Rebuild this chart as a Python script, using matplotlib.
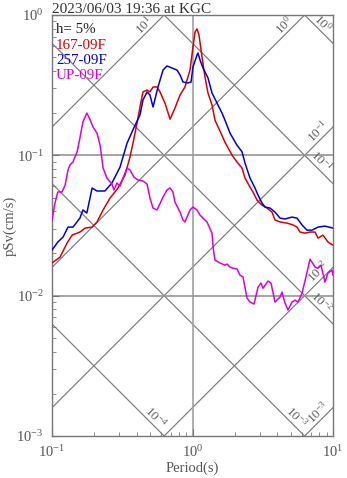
import numpy as np
import matplotlib
matplotlib.use('Agg')
import matplotlib.pyplot as plt

plt.rcParams['font.family'] = ['Liberation Serif', 'DejaVu Serif']
plt.rcParams['mathtext.default'] = 'regular'

title = "2023/06/03 19:36 at KGC"
damping_label = "h= 5%"
series_names = ["167-09F", "257-09F", "UP-09F"]
series_colors = ["#dd0000", "#0000dd", "#dd00dd"]

# ---- data: period (s), pSv (cm/s) ----
period_167 = [0.100, 0.114, 0.128, 0.139, 0.158, 0.172, 0.193, 0.209, 0.231, 0.259,
              0.295, 0.331, 0.359, 0.377, 0.403, 0.423, 0.444, 0.475, 0.498, 0.524,
              0.559, 0.587, 0.637, 0.692, 0.750, 0.815, 0.884, 0.960, 1.008, 1.042,
              1.077, 1.112, 1.169, 1.227, 1.289, 1.377, 1.446, 1.569, 1.703, 1.910,
              2.074, 2.251, 2.364, 2.566, 2.695, 2.877, 3.124, 3.390, 3.680, 3.866,
              4.196, 4.706, 5.192, 5.544, 5.823, 6.32, 6.86, 7.45, 7.82, 8.49,
              9.21, 10.0]
psv_167 = [0.0171, 0.0188, 0.0237, 0.0270, 0.0284, 0.0303, 0.0308, 0.0335, 0.0408, 0.0496,
           0.0585, 0.0724, 0.0973, 0.122, 0.170, 0.221, 0.283, 0.292, 0.283, 0.307,
           0.307, 0.283, 0.236, 0.181, 0.217, 0.269, 0.307, 0.405, 0.592, 0.756,
           0.795, 0.720, 0.502, 0.361, 0.278, 0.228, 0.178, 0.149, 0.124, 0.1005,
           0.0896, 0.0812, 0.0689, 0.0594, 0.0548, 0.0480, 0.0442, 0.0421, 0.0394, 0.0346,
           0.0335, 0.0329, 0.0319, 0.0308, 0.0284, 0.0279, 0.0284, 0.0284, 0.0257, 0.0270,
           0.0241, 0.0229]

period_257 = [0.100, 0.110, 0.120, 0.130, 0.141, 0.158, 0.166, 0.177, 0.193, 0.209,
              0.238, 0.267, 0.305, 0.342, 0.377, 0.423, 0.444, 0.475, 0.498, 0.524,
              0.568, 0.617, 0.658, 0.715, 0.776, 0.815, 0.856, 0.929, 0.976, 1.008,
              1.077, 1.094, 1.131, 1.188, 1.289, 1.377, 1.494, 1.622, 1.703, 1.849,
              2.074, 2.251, 2.364, 2.566, 2.785, 2.926, 3.124, 3.281, 3.562, 3.866,
              4.196, 4.554, 5.108, 5.544, 6.017, 6.530, 7.09, 7.82, 8.77, 10.0]
psv_257 = [0.0211, 0.0241, 0.0262, 0.0308, 0.0308, 0.0357, 0.0408, 0.0388, 0.0585, 0.0557,
           0.0557, 0.0635, 0.0825, 0.122, 0.152, 0.194, 0.248, 0.283, 0.269, 0.221,
           0.307, 0.405, 0.433, 0.419, 0.405, 0.374, 0.333, 0.328, 0.333, 0.426,
           0.519, 0.536, 0.478, 0.419, 0.356, 0.278, 0.236, 0.200, 0.178, 0.144,
           0.118, 0.106, 0.0881, 0.0689, 0.0585, 0.0521, 0.0457, 0.0428, 0.0421, 0.0394,
           0.0357, 0.0352, 0.0363, 0.0357, 0.0319, 0.0293, 0.0293, 0.0308, 0.0313, 0.0303]

period_up = [0.100, 0.105, 0.110, 0.118, 0.124, 0.130, 0.134, 0.141, 0.151, 0.158,
             0.166, 0.177, 0.186, 0.196, 0.209, 0.220, 0.231, 0.246, 0.267, 0.276,
             0.290, 0.305, 0.320, 0.342, 0.359, 0.383, 0.409, 0.444, 0.475, 0.498,
             0.524, 0.559, 0.617, 0.658, 0.692, 0.726, 0.750, 0.815, 0.856, 0.884,
             0.960, 1.008, 1.077, 1.131, 1.227, 1.268, 1.377, 1.400, 1.446, 1.569,
             1.703, 1.760, 1.849, 1.942, 2.074, 2.178, 2.288, 2.443, 2.566, 2.740,
             2.926, 3.073, 3.176, 3.447, 3.620, 3.866, 4.196, 4.335, 4.554, 4.783,
             5.108, 5.364, 5.636, 6.017, 6.42, 6.86, 7.45, 7.82, 8.21, 8.77,
             9.21, 9.84, 10.0]
psv_up = [0.0346, 0.0457, 0.0548, 0.0548, 0.0614, 0.0786, 0.0853, 0.0896, 0.106, 0.133,
          0.173, 0.200, 0.181, 0.159, 0.144, 0.118, 0.0812, 0.0689, 0.0624, 0.0566,
          0.0635, 0.0604, 0.0689, 0.0812, 0.0786, 0.0700, 0.0667, 0.0656, 0.0624, 0.0496,
          0.0421, 0.0408, 0.0504, 0.0566, 0.0585, 0.0548, 0.0465, 0.0394, 0.0346, 0.0335,
          0.0408, 0.0428, 0.0408, 0.0375, 0.0346, 0.0335, 0.0279, 0.0222, 0.0179, 0.0171,
          0.0165, 0.0168, 0.0160, 0.0157, 0.0155, 0.0140, 0.0136, 0.00961, 0.00900, 0.00871,
          0.0115, 0.0123, 0.0113, 0.0127, 0.0123, 0.00900, 0.00977, 0.0106, 0.00886, 0.00790,
          0.00900, 0.00930, 0.00900, 0.0104, 0.0136, 0.0182, 0.0160, 0.0157, 0.0165, 0.0125,
          0.0145, 0.0152, 0.0140]

# tripartite guide lines: pseudo-acceleration (cm/s^2) and displacement (cm) exponents
accel_exps = [1, 0, -1, -2, -3]
disp_exps = [0, -1, -2, -3, -4]

T_MIN, T_MAX = 0.1, 10.0
SV_MIN, SV_MAX = 1e-3, 1.0

fig = plt.figure(figsize=(3.47, 4.78), dpi=100)
ax = fig.add_axes([52 / 347, 1 - 436 / 478, 281 / 347, 421 / 478])
ax.set_xscale('log')
ax.set_yscale('log')
ax.set_xlim(T_MIN, T_MAX)
ax.set_ylim(SV_MIN, SV_MAX)

grid_col = '#7a7a7a'
Tg = np.logspace(-1, 1, 300)
two_pi = 2 * np.pi
lab_kw = dict(fontsize=9.5, color='#606060', rotation_mode='anchor',
              ha='right', va='bottom', zorder=2)

for k in accel_exps:
    a = 10.0 ** k
    ax.plot(Tg, a * Tg / two_pi, color=grid_col, lw=0.85, zorder=1)
    t_top = two_pi * SV_MAX / a
    if t_top <= T_MAX:
        te, se, d = t_top, SV_MAX, 0.06
    else:
        te, se, d = T_MAX, a * T_MAX / two_pi, 0.008
    f = 10 ** (-d)
    ax.text(te * f, se * f, r'$\mathdefault{10^{%d}}$' % k, rotation=45, **lab_kw)

for k in disp_exps:
    dd = 10.0 ** k
    ax.plot(Tg, two_pi * dd / Tg, color=grid_col, lw=0.85, zorder=1)
    t_bot = two_pi * dd / SV_MIN
    if t_bot <= T_MAX:
        te, se, d = t_bot, SV_MIN, 0.035
    else:
        te, se, d = T_MAX, two_pi * dd / T_MAX, 0.06
    f = 10 ** (-d)
    ax.text(te * f, se / f, r'$\mathdefault{10^{%d}}$' % k, rotation=-45, **lab_kw)

ax.axvline(1.0, color='#a0a0a0', lw=1.2, zorder=1)
for yv in (0.1, 0.01):
    ax.axhline(yv, color='#959595', lw=1.2, zorder=1)

for per, val, col in zip([period_167, period_257, period_up],
                         [psv_167, psv_257, psv_up], series_colors):
    ax.plot(per, val, color=col, lw=1.1, zorder=3)

for s in ax.spines.values():
    s.set_color('#777777')
    s.set_linewidth(1.0)
ax.tick_params(which='both', direction='in', top=False, right=False,
               color='#777777', labelcolor='#555555', labelsize=10.5, pad=6)
ax.tick_params(which='major', length=5)
ax.tick_params(which='minor', length=3)

ax.set_xlabel('Period(s)', fontsize=10.5, color='#555555', labelpad=1)
ax.set_ylabel('pSv(cm/s)', fontsize=10.5, color='#555555', labelpad=0)

ax.text(0.0, (436 - 13) / 421, title, transform=ax.transAxes, fontsize=11,
        color='#333333', ha='left', va='baseline')

leg_y = [33, 49, 64, 79]
leg_txt = [damping_label] + series_names
leg_col = ['#222222'] + series_colors
for yy, tx, cc in zip(leg_y, leg_txt, leg_col):
    ax.text((56 - 52) / 281, (436 - yy) / 421, tx, transform=ax.transAxes,
            fontsize=10.8, color=cc, ha='left', va='baseline', zorder=4)

fig.savefig('out.png', dpi=100)
